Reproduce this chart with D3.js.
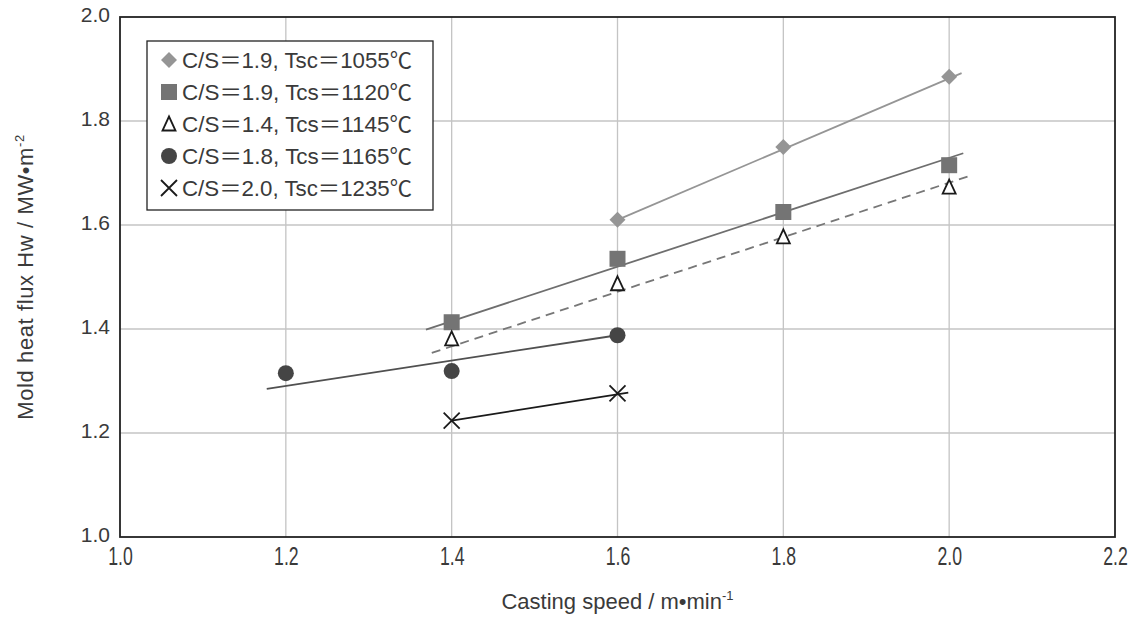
<!DOCTYPE html>
<html>
<head>
<meta charset="utf-8">
<script src="https://cdn.jsdelivr.net/npm/d3@7"></script>
<style>
  body { margin: 0; background: #fff; }
  text { font-family: "Liberation Sans", "Noto Sans", sans-serif; fill: #3a3a3a; }
  .cjk { font-family: "Liberation Sans", "Noto Sans CJK JP", sans-serif; }
</style>
</head>
<body>
<div id="chart"></div>
<script>
// Chart size
const width = 1136;
const height = 619;
const margin = { top: 17, right: 21, bottom: 82, left: 120 };

// Axis ticks
const xTicks = [1.0, 1.2, 1.4, 1.6, 1.8, 2.0, 2.2];
const yTicks = [1.0, 1.2, 1.4, 1.6, 1.8, 2.0];

// Series data (casting speed, heat flux)
const diamondX = [1.6, 1.8, 2.0];
const diamondY = [1.61, 1.75, 1.885];
const squareX = [1.4, 1.6, 1.8, 2.0];
const squareY = [1.413, 1.535, 1.625, 1.715];
const triangleX = [1.4, 1.6, 1.8, 2.0];
const triangleY = [1.381, 1.487, 1.577, 1.673];
const circleX = [1.2, 1.4, 1.6];
const circleY = [1.315, 1.319, 1.388];
const crossX = [1.4, 1.6];
const crossY = [1.224, 1.276];

// Trend lines: [x0, y0, x1, y1]
const diamondTrend = [1.6, 1.61, 2.015, 1.892];
const squareTrend = [1.369, 1.399, 2.017, 1.738];
const triangleTrend = [1.376, 1.354, 2.024, 1.694];
const circleTrend = [1.177, 1.285, 1.6, 1.388];
const crossTrend = [1.4, 1.224, 1.613, 1.2775];

// Legend labels
const legendLabels = [
    "C/S＝1.9, Tsc＝1055℃",
    "C/S＝1.9, Tcs＝1120℃",
    "C/S＝1.4, Tcs＝1145℃",
    "C/S＝1.8, Tcs＝1165℃",
    "C/S＝2.0, Tsc＝1235℃"
];

const series = [
    { xs: diamondX, ys: diamondY, trend: diamondTrend, shape: "diamond", color: "#959595", line: "#959595", dash: null },
    { xs: squareX, ys: squareY, trend: squareTrend, shape: "square", color: "#747474", line: "#6e6e6e", dash: null },
    { xs: triangleX, ys: triangleY, trend: triangleTrend, shape: "triangle", color: "#1a1a1a", line: "#777", dash: "9,6" },
    { xs: circleX, ys: circleY, trend: circleTrend, shape: "circle", color: "#454545", line: "#505050", dash: null },
    { xs: crossX, ys: crossY, trend: crossTrend, shape: "cross", color: "#1a1a1a", line: "#1a1a1a", dash: null }
];

const svg = d3.select("#chart")
    .append("svg")
    .attr("width", width)
    .attr("height", height);

const innerW = width - margin.left - margin.right;
const innerH = height - margin.top - margin.bottom;

const x = d3.scaleLinear().domain([1.0, 2.2]).range([0, innerW]);
const y = d3.scaleLinear().domain([1.0, 2.0]).range([innerH, 0]);

const g = svg.append("g")
    .attr("transform", `translate(${margin.left},${margin.top})`);

// Grid lines
g.append("g")
    .selectAll("line")
    .data(xTicks.slice(1, -1))
    .join("line")
    .attr("x1", d => x(d)).attr("x2", d => x(d))
    .attr("y1", 0).attr("y2", innerH)
    .attr("stroke", "#c4c4c4").attr("stroke-width", 1.3);

g.append("g")
    .selectAll("line")
    .data(yTicks.slice(1, -1))
    .join("line")
    .attr("x1", 0).attr("x2", innerW)
    .attr("y1", d => y(d)).attr("y2", d => y(d))
    .attr("stroke", "#c4c4c4").attr("stroke-width", 1.3);

// Axes (labels only)
const xAxis = g.append("g")
    .attr("transform", `translate(0,${innerH})`)
    .call(d3.axisBottom(x).tickValues(xTicks).tickFormat(d3.format(".1f")).tickSize(0).tickPadding(0));
xAxis.select(".domain").remove();
xAxis.selectAll("text")
    .style("font-size", "26px")
    .attr("fill", "#3a3a3a")
    .attr("dy", 0)
    .attr("y", 28)
    .attr("transform", "scale(0.68,1)");

const yAxis = g.append("g")
    .call(d3.axisLeft(y).tickValues(yTicks).tickFormat(d3.format(".1f")).tickSize(0).tickPadding(10));
yAxis.select(".domain").remove();
yAxis.selectAll("text").style("font-size", "21px").attr("fill", "#3a3a3a").attr("dy", "0.2em");

// Plot frame
g.append("rect")
    .attr("x", 0).attr("y", 0)
    .attr("width", innerW).attr("height", innerH)
    .attr("fill", "none")
    .attr("stroke", "#222")
    .attr("stroke-width", 1.8);

// Trend lines
series.forEach(s => {
    g.append("line")
        .attr("x1", x(s.trend[0])).attr("y1", y(s.trend[1]))
        .attr("x2", x(s.trend[2])).attr("y2", y(s.trend[3]))
        .attr("stroke", s.line)
        .attr("stroke-width", 1.8)
        .attr("stroke-dasharray", s.dash);
});

// Marker drawing
function drawMarker(sel, shape, color, cx, cy) {
    if (shape === "diamond") {
        sel.append("path")
            .attr("d", `M${cx},${cy - 8}L${cx + 8},${cy}L${cx},${cy + 8}L${cx - 8},${cy}Z`)
            .attr("fill", color);
    } else if (shape === "square") {
        sel.append("rect")
            .attr("x", cx - 8).attr("y", cy - 8)
            .attr("width", 16).attr("height", 16)
            .attr("fill", color);
    } else if (shape === "triangle") {
        sel.append("path")
            .attr("d", `M${cx},${cy - 7.5}L${cx + 6.5},${cy + 6.5}L${cx - 6.5},${cy + 6.5}Z`)
            .attr("fill", "#fff")
            .attr("stroke", color)
            .attr("stroke-width", 1.8);
    } else if (shape === "circle") {
        sel.append("circle")
            .attr("cx", cx).attr("cy", cy).attr("r", 8)
            .attr("fill", color);
    } else if (shape === "cross") {
        sel.append("path")
            .attr("d", `M${cx - 8},${cy - 8}L${cx + 8},${cy + 8}M${cx + 8},${cy - 8}L${cx - 8},${cy + 8}`)
            .attr("stroke", color)
            .attr("stroke-width", 1.8);
    }
}

// Markers
series.forEach(s => {
    s.xs.forEach((v, i) => drawMarker(g, s.shape, s.color, x(v), y(s.ys[i])));
});

// Legend
const legend = svg.append("g");
legend.append("rect")
    .attr("x", 147).attr("y", 41)
    .attr("width", 286).attr("height", 169)
    .attr("fill", "#fff")
    .attr("stroke", "#222")
    .attr("stroke-width", 1.3);

legendLabels.forEach((label, i) => {
    const cy = 60 + i * 32;
    drawMarker(legend, series[i].shape, series[i].color, 169, cy);
    legend.append("text")
        .attr("class", "cjk")
        .attr("x", 182)
        .attr("y", cy)
        .attr("dy", "0.36em")
        .attr("font-size", 22)
        .attr("textLength", 230)
        .attr("lengthAdjust", "spacingAndGlyphs")
        .text(label);
});

// Axis titles
const xTitle = svg.append("text")
    .attr("x", margin.left + innerW / 2)
    .attr("y", 609)
    .attr("text-anchor", "middle")
    .attr("font-size", 22);
xTitle.append("tspan").text("Casting speed / m•min");
xTitle.append("tspan").attr("font-size", 13).attr("dy", -9).text("-1");

const yTitle = svg.append("text")
    .attr("transform", `translate(33,${margin.top + innerH / 2}) rotate(-90)`)
    .attr("text-anchor", "middle")
    .attr("font-size", 22)
    .attr("letter-spacing", 0.6);
yTitle.append("tspan").text("Mold heat flux Hw / MW•m");
yTitle.append("tspan").attr("font-size", 13).attr("dy", -9).text("-2");
</script>
</body>
</html>
